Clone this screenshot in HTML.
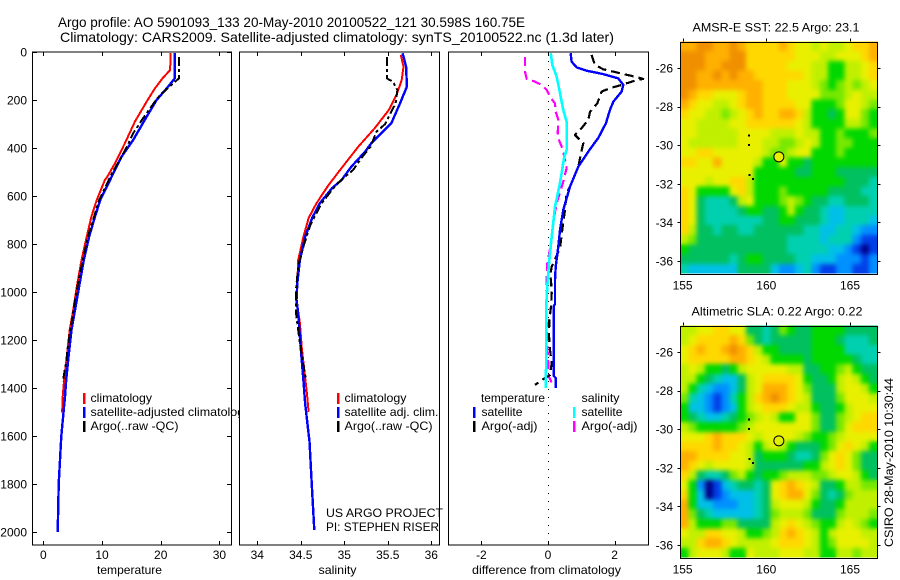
<!DOCTYPE html>
<html>
<head>
<meta charset="utf-8">
<title>Argo profile 5901093_133</title>
<style>
html,body{margin:0;padding:0;background:#fff;width:900px;height:580px;overflow:hidden}
svg{display:block}
text{font-family:"Liberation Sans",sans-serif;font-size:12px;fill:#000}
.title{font-size:14px}
</style>
</head>
<body>
<svg id="chart" xmlns="http://www.w3.org/2000/svg" width="900" height="580" viewBox="0 0 900 580">
<defs>
<clipPath id="p1clip"><rect x="32" y="50" width="208" height="500"/></clipPath>
<filter id="soften" x="0" y="0" width="100%" height="100%" color-interpolation-filters="sRGB">
<feGaussianBlur in="SourceGraphic" stdDeviation="2.4" result="b"/>
<feMerge><feMergeNode in="SourceGraphic"/><feMergeNode in="b"/></feMerge>
</filter>
</defs>
<rect x="0" y="0" width="900" height="580" fill="#fff"/>
<text class="title" x="58" y="27" textLength="467" lengthAdjust="spacingAndGlyphs">Argo profile: AO 5901093_133 20-May-2010 20100522_121 30.598S 160.75E</text>
<text class="title" x="60" y="42" textLength="554" lengthAdjust="spacingAndGlyphs">Climatology: CARS2009. Satellite-adjusted climatology: synTS_20100522.nc (1.3d later)</text>

<g id="panel1"></g>
<g id="panel2"></g>
<g id="panel3"></g>
<g id="map1"></g>
<g id="map2"></g>

<rect x="32.5" y="52" width="199" height="493" fill="none" stroke="#000" stroke-width="1" shape-rendering="crispEdges"/>
<rect x="239.5" y="52" width="200" height="493" fill="none" stroke="#000" stroke-width="1" shape-rendering="crispEdges"/>
<rect x="448.5" y="52" width="200" height="493" fill="none" stroke="#000" stroke-width="1" shape-rendering="crispEdges"/>

<text x="97" y="574" textLength="65" lengthAdjust="spacingAndGlyphs">temperature</text>
<text x="318.5" y="574" textLength="38" lengthAdjust="spacingAndGlyphs">salinity</text>
<text x="472" y="574" textLength="149" lengthAdjust="spacingAndGlyphs">difference from climatology</text>

<g>
<rect x="83" y="393" width="2.5" height="11" fill="#f00"/>
<rect x="83" y="407" width="2.5" height="11" fill="#00f"/>
<rect x="83" y="421" width="2.5" height="11" fill="#000"/>
<text x="90.5" y="402" textLength="61.5" lengthAdjust="spacingAndGlyphs">climatology</text>
<g clip-path="url(#p1clip)"><text x="90.5" y="416" textLength="160" lengthAdjust="spacingAndGlyphs">satellite-adjusted climatology</text></g>
<text x="90.5" y="430" textLength="88" lengthAdjust="spacingAndGlyphs">Argo(..raw -QC)</text>
</g>
<g>
<rect x="337" y="393" width="2.5" height="11" fill="#f00"/>
<rect x="337" y="407" width="2.5" height="11" fill="#00f"/>
<rect x="337" y="421" width="2.5" height="11" fill="#000"/>
<text x="344.5" y="402" textLength="62" lengthAdjust="spacingAndGlyphs">climatology</text>
<text x="344.5" y="416" textLength="94" lengthAdjust="spacingAndGlyphs">satellite adj. clim.</text>
<text x="344.5" y="430" textLength="88" lengthAdjust="spacingAndGlyphs">Argo(..raw -QC)</text>
</g>
<text x="326" y="517" textLength="117" lengthAdjust="spacingAndGlyphs">US ARGO PROJECT</text>
<text x="326" y="531" textLength="113" lengthAdjust="spacingAndGlyphs">PI: STEPHEN RISER</text>

<g>
<text x="481" y="402" textLength="64" lengthAdjust="spacingAndGlyphs">temperature</text>
<text x="581.5" y="402" textLength="38" lengthAdjust="spacingAndGlyphs">salinity</text>
<rect x="473" y="407" width="2.5" height="11" fill="#00f"/>
<rect x="473" y="421" width="2.5" height="11" fill="#000"/>
<rect x="573" y="407" width="2.5" height="11" fill="#0ff"/>
<rect x="573" y="421" width="2.5" height="11" fill="#f0f"/>
<text x="481.5" y="416" textLength="41" lengthAdjust="spacingAndGlyphs">satellite</text>
<text x="481.5" y="430" textLength="56" lengthAdjust="spacingAndGlyphs">Argo(-adj)</text>
<text x="581.5" y="416" textLength="41" lengthAdjust="spacingAndGlyphs">satellite</text>
<text x="581.5" y="430" textLength="56" lengthAdjust="spacingAndGlyphs">Argo(-adj)</text>
</g>

<text x="692.5" y="31.5" textLength="167" lengthAdjust="spacingAndGlyphs">AMSR-E SST: 22.5 Argo: 23.1</text>
<text x="691.5" y="315.5" textLength="171" lengthAdjust="spacingAndGlyphs">Altimetric SLA: 0.22 Argo: 0.22</text>
<text transform="translate(893,547) rotate(-90)" x="0" y="0" textLength="169" lengthAdjust="spacingAndGlyphs">CSIRO 28-May-2010 10:30:44</text>
</svg>

<script>
// ---------- Profile data ----------
const yTicks = [0,200,400,600,800,1000,1200,1400,1600,1800,2000];
const tempTicks = [0,10,20,30];
const salTicks = [34,34.5,35,35.5,36];
const salTickLabels = ['34','34.5','35','35.5','36'];
const diffTicks = [-2,0,2];

const tempClimDepth = [5,75,110,152,207,290,380,464,520,533,617,686,770,867,978,1075,1158,1270,1353,1436,1503];
const tempClimValue = [21.7,21.6,20.3,19.0,17.6,15.6,13.9,12.2,10.9,10.5,9.1,8.2,7.4,6.5,5.7,5.1,4.5,4.0,3.6,3.3,3.2];
const tempSatDepth = [5,110,152,200,270,367,437,505,533,617,686,770,867,978,1075,1158,1270,1367,1436,1600,1800,2000];
const tempSatValue = [22.4,22.4,21.0,19.3,17.6,15.3,13.3,11.9,11.4,9.7,8.8,7.8,6.9,6.1,5.4,4.8,4.3,3.9,3.7,3.07,2.62,2.45];
const tempArgoDepth = [20,110,179,207,235,276,339,388,437,505,617,770,922,1033,1130,1214,1297,1374];
const tempArgoValue = [23.1,23.1,19.9,19.0,18.2,17.0,15.3,14.4,13.3,11.7,9.5,7.6,6.25,5.4,4.8,4.25,3.87,3.3];

const salClimDepth = [12,61,117,179,242,317,395,483,554,630,692,770,867,964,1033,1130,1230,1325,1422,1499];
const salClimValue = [35.65,35.68,35.66,35.60,35.51,35.35,35.16,34.97,34.82,34.68,34.59,34.53,34.47,34.46,34.45,34.49,34.51,34.54,34.57,34.59];
const salSatDepth = [5,61,144,214,297,380,415,478,533,567,630,692,770,867,964,1033,1088,1187,1283,1367,1463,1562,1623,1797,1992];
const salSatValue = [35.67,35.71,35.72,35.64,35.54,35.31,35.24,35.08,34.97,34.86,34.72,34.63,34.55,34.49,34.46,34.45,34.47,34.49,34.51,34.53,34.55,34.58,34.6,34.625,34.655];
const salArgoDepth = [20,110,124,158,214,270,300,332,395,440,492,525,561,630,720,811,890,992,1088,1213,1367];
const salArgoValue = [35.49,35.49,35.56,35.61,35.59,35.51,35.47,35.37,35.30,35.20,35.10,34.99,34.89,34.74,34.61,34.53,34.47,34.445,34.445,34.49,34.56];

const diffTempSatDepth = [5,40,64,78,92,110,137,165,207,242,297,358,405,478,561,658,742,811,895,950,1050,1060,1350,1358,1400];
const diffTempSatValue = [0.68,0.71,0.86,1.16,1.66,2.11,2.26,2.21,1.96,1.86,1.74,1.51,1.26,0.91,0.66,0.46,0.36,0.31,0.23,0.21,0.21,0.17,0.17,0.23,0.23];
const diffSalSatDepth = [5,54,103,172,242,290,408,436,546,645,770,880,950,1050,1300,1350,1400];
const diffSalSatValue = [0.08,0.13,0.26,0.36,0.46,0.56,0.56,0.49,0.36,0.21,0.11,0.03,-0.01,-0.05,-0.05,-0.07,-0.07];
const diffTempArgoDepth = [12,54,72,85,103,112,117,137,151,165,214,249,283,317,346,380,422,478,546,589,658,707,817,895,936,950,1005,1061,1117,1179,1242,1296,1346,1358,1387];
const diffTempArgoValue = [1.31,1.41,1.66,2.06,2.61,2.86,2.66,2.21,1.86,1.61,1.48,1.26,1.21,1.01,0.81,1.06,0.99,0.91,0.71,0.56,0.51,0.46,0.36,0.11,0.06,0.09,0.11,0.09,0.04,0.03,0.06,0.11,0.06,-0.09,-0.39];
const diffSalArgoDepth = [20,54,82,112,121,137,158,192,214,249,283,339,367,395,436,483,540,630,714,797,880,942,1046,1200,1354,1383];
const diffSalArgoValue = [-0.69,-0.69,-0.69,-0.64,-0.44,-0.19,-0.04,0.09,0.21,0.23,0.31,0.29,0.33,0.41,0.49,0.56,0.46,0.26,0.15,0.09,-0.02,-0.04,-0.05,-0.03,0.03,0.13];

// ---------- Map data (colour-level grid, north to south, west to east) ----------
const sstGrid = [
[11,11,12,12,11,11,12,11,10,10,10,10,11,10,9,9,8,9,8,8,9,10,10,11],
[12,12,12,11,11,11,12,12,10,10,10,10,10,10,9,9,9,8,8,9,9,9,10,11],
[12,12,12,11,11,12,12,12,10,10,10,10,10,9,9,9,8,8,6,6,8,8,9,10],
[12,12,11,11,12,11,12,11,11,10,10,10,10,10,10,9,8,8,6,6,8,8,9,10],
[12,12,11,11,11,11,11,11,11,11,10,10,10,9,9,9,8,7,6,7,8,7,8,9],
[12,11,10,10,9,9,9,10,11,11,10,10,10,9,9,9,9,7,7,7,8,9,8,8],
[11,10,9,9,8,8,9,10,11,11,10,10,10,10,9,9,6,6,6,7,9,9,8,7],
[10,9,9,8,8,7,8,9,10,11,10,10,11,11,10,8,6,6,5,6,9,9,7,6],
[9,9,8,8,8,8,9,9,10,10,10,10,10,10,9,8,6,6,6,6,8,8,7,6],
[9,9,8,8,8,8,8,9,9,9,9,8,8,8,9,8,8,6,6,7,6,6,6,7],
[9,8,8,8,8,8,8,9,9,9,8,8,7,7,8,9,8,6,6,7,7,6,6,6],
[9,9,10,10,9,9,9,9,9,9,8,7,7,8,9,9,6,6,6,7,6,6,6,6],
[10,10,9,9,11,9,9,9,9,8,6,6,9,6,6,5,6,6,6,6,6,6,6,6],
[9,9,9,9,9,9,9,9,9,6,6,6,6,6,5,5,6,6,6,5,5,5,5,5],
[9,9,9,8,9,9,10,10,8,6,6,6,6,6,6,6,6,6,6,6,5,5,5,4],
[10,9,6,6,6,6,9,10,8,6,6,6,7,6,6,6,6,6,5,5,5,5,4,4],
[10,9,5,4,4,4,5,8,9,6,6,6,7,8,7,6,5,5,4,4,5,5,5,4],
[10,9,5,4,4,4,4,5,6,6,5,5,6,8,6,5,5,4,3,3,4,4,4,4],
[10,9,5,4,4,4,4,4,4,4,5,5,6,6,5,5,5,4,3,3,4,4,4,3],
[10,8,5,5,4,5,5,4,4,5,5,5,5,5,5,4,4,3,3,4,4,3,2,2],
[8,7,5,5,5,5,5,5,5,5,5,5,5,4,4,4,4,3,4,4,4,2,1,1],
[6,5,5,5,5,5,5,5,5,5,5,5,5,4,4,4,4,4,3,3,2,1,0,1],
[5,5,5,5,5,5,4,5,6,6,5,5,5,5,4,4,3,3,3,2,2,2,1,2],
[4,3,3,3,3,3,3,5,5,5,5,3,2,2,3,4,2,1,1,2,2,1,1,2]
];
const slaGrid = [
[8,8,9,9,10,10,9,9,5,5,4,5,7,6,5,5,6,6,6,6,5,5,5,5],
[8,9,10,10,10,10,11,10,7,5,4,5,5,5,5,5,6,6,6,5,4,4,4,5],
[9,10,11,10,10,11,12,11,10,8,6,6,5,5,5,5,6,6,6,6,4,4,4,4],
[9,10,10,10,10,10,11,11,10,9,8,6,6,6,6,5,6,6,6,6,6,5,4,4],
[8,9,8,6,6,5,6,8,9,9,9,9,9,8,8,5,5,6,6,7,8,6,5,5],
[8,8,6,5,4,3,3,5,8,9,10,10,10,10,9,6,5,5,6,8,9,8,6,5],
[8,6,4,3,2,2,3,5,8,9,11,11,11,10,9,7,5,5,5,8,9,9,8,6],
[7,4,3,2,1,2,4,6,8,10,11,12,11,10,9,8,5,5,5,7,9,9,9,8],
[6,3,3,2,1,2,3,6,8,9,10,10,10,9,8,8,6,5,5,6,8,9,9,9],
[6,5,4,3,3,4,5,6,7,8,9,8,6,6,9,9,7,5,5,7,8,9,10,10],
[8,7,6,6,6,6,6,7,8,9,9,9,9,9,9,9,7,5,5,7,9,10,10,10],
[9,9,9,10,11,10,10,10,9,8,9,9,9,9,8,7,6,6,7,8,9,9,9,9],
[10,10,10,10,11,10,10,9,8,6,8,9,8,6,5,5,5,6,7,9,10,9,8,6],
[11,11,10,10,10,10,9,9,8,5,6,6,6,5,4,4,5,7,9,10,9,7,5,5],
[11,10,9,8,9,9,9,9,8,5,5,5,5,5,5,6,6,8,9,10,9,7,5,5],
[10,8,5,4,4,5,7,8,6,5,6,6,7,8,8,8,7,7,8,9,9,8,6,5],
[9,6,2,0,1,3,4,5,5,4,5,9,10,11,10,9,8,5,5,6,8,8,7,7],
[10,6,3,0,1,2,3,3,3,4,5,9,10,11,11,9,7,5,4,5,7,8,8,8],
[11,6,3,3,2,2,2,3,3,4,5,8,9,9,9,8,6,5,5,6,8,8,8,8],
[11,7,5,4,3,3,3,3,3,4,5,7,8,8,8,7,5,5,5,7,8,8,8,7],
[11,8,6,6,6,7,7,5,5,5,5,8,9,10,9,8,7,6,6,8,9,8,7,6],
[9,8,8,10,10,9,9,8,6,6,7,8,10,11,10,9,8,6,8,9,9,9,8,8],
[8,8,10,11,11,10,9,8,8,8,8,9,10,10,10,9,8,6,7,9,9,9,9,8],
[6,8,9,9,9,8,6,6,9,8,8,8,9,9,9,8,8,6,6,8,8,7,8,8]
];
const lonTicks = [155,160,165];
const latTicks = [-26,-28,-30,-32,-34,-36];
const floatLon = [160.75];
const floatLat = [-30.6];
const floatLevel = [9];
const otherLon = [158.98,158.98,159.0,159.2];
const otherLat = [-29.5,-30.0,-31.53,-31.75];

const palette = ['#000088','#0040e8','#0090ff','#00c0e8','#00d0b0','#00c060','#00d800','#78e800','#c0f000','#e8f000','#ffd800','#ffb000','#f09000'];

// ---------- Helpers ----------
const NS = 'http://www.w3.org/2000/svg';
function mk(parent, tag, attrs, name) {
  const el = document.createElementNS(NS, tag);
  for (const k in attrs) el.setAttribute(k, attrs[k]);
  
  
  parent.appendChild(el);
  return el;
}
function label(parent, str, x, y, anchor, name) {
  const el = mk(parent, 'text', {x: x, y: y, 'text-anchor': anchor}, name);
  el.textContent = str;
  return el;
}
const depthToY = d => 52 + 0.24 * d;
const tempX = v => 43.3 + 5.87 * v;
const salX = v => 257.3 + 87 * (v - 34);
const diffX = v => 548 + 33.3 * v;

function drawSeries(parent, depths, values, xFn, color, width, dash, name) {
  const pts = depths.map((d, i) => xFn(values[i]).toFixed(1) + ',' + depthToY(d).toFixed(1)).join(' ');
  const attrs = {points: pts, fill: 'none', stroke: color, 'stroke-width': width, 'stroke-linejoin': 'round', 'shape-rendering': 'crispEdges'};
  if (dash) attrs['stroke-dasharray'] = dash;
  return mk(parent, 'polyline', attrs, name);
}
function hTick(parent, x, y1, y2, name) {
  return mk(parent, 'line', {x1: x, x2: x, y1: y1, y2: y2, stroke: '#000', 'stroke-width': 1, 'shape-rendering': 'crispEdges'}, name);
}
function vTick(parent, y, x1, x2, name) {
  return mk(parent, 'line', {x1: x1, x2: x2, y1: y, y2: y, stroke: '#000', 'stroke-width': 1, 'shape-rendering': 'crispEdges'}, name);
}
function xAxis(parent, ticks, labels, xFn) {
  ticks.forEach((t, i) => {
    const x = Math.round(xFn(t)) + 0.5;
    hTick(parent, x, 52, 56, 'x-tick-top');
    hTick(parent, x, 541, 545, 'x-tick-bottom');
    label(parent, labels[i], xFn(t), 559, 'middle', 'x-tick-label');
  });
}

// ---------- Panels ----------
const p1 = document.getElementById('panel1');
const p2 = document.getElementById('panel2');
const p3 = document.getElementById('panel3');

xAxis(p1, tempTicks, tempTicks.map(String), tempX);
yTicks.forEach(t => {
  const y = Math.round(depthToY(t)) + 0.5;
  vTick(p1, y, 32, 37, 'y-tick-left');
  vTick(p1, y, 227, 231, 'y-tick-right');
  label(p1, String(t), 27, depthToY(t) + 4.5, 'end', 'y-tick-label');
});
drawSeries(p1, tempClimDepth, tempClimValue, tempX, '#f00', 2, null, 'temperature-climatology-line');
drawSeries(p1, tempSatDepth, tempSatValue, tempX, '#00f', 2.4, null, 'temperature-satellite-line');
drawSeries(p1, tempArgoDepth, tempArgoValue, tempX, '#000', 2, '9 3 3 3', 'temperature-argo-line');

xAxis(p2, salTicks, salTickLabels, salX);
drawSeries(p2, salClimDepth, salClimValue, salX, '#f00', 2, null, 'salinity-climatology-line');
drawSeries(p2, salSatDepth, salSatValue, salX, '#00f', 2.4, null, 'salinity-satellite-line');
drawSeries(p2, salArgoDepth, salArgoValue, salX, '#000', 2, '9 3 3 3', 'salinity-argo-line');

xAxis(p3, diffTicks, diffTicks.map(String), diffX);
mk(p3, 'line', {x1: 548.5, x2: 548.5, y1: 53, y2: 545, stroke: '#000', 'stroke-width': 1, 'stroke-dasharray': '1 7', 'shape-rendering': 'crispEdges'}, 'zero-reference-line');
drawSeries(p3, diffSalArgoDepth, diffSalArgoValue, diffX, '#f0f', 2.2, '9 5', 'salinity-argo-difference-line');
drawSeries(p3, diffTempArgoDepth, diffTempArgoValue, diffX, '#000', 2.2, '9 5', 'temperature-argo-difference-line');
drawSeries(p3, diffSalSatDepth, diffSalSatValue, diffX, '#0ff', 2.6, null, 'salinity-satellite-difference-line');
drawSeries(p3, diffTempSatDepth, diffTempSatValue, diffX, '#00f', 2.4, null, 'temperature-satellite-difference-line');

// ---------- Maps ----------
const lonToX = lon => 766.3 + 16.74 * (lon - 160);
const lonMin = 154.86, lonMax = 166.63, latMax = -24.63, latMin = -36.64;

function drawMap(group, grid, lat26Y, labelY, cellName) {
  const latToY = lat => lat26Y + 19.31 * (-26 - lat);
  const rows = grid.length;
  const cols = grid[0].length;
  const dLon = (lonMax - lonMin) / cols;
  const dLat = (latMax - latMin) / rows;
  const cells = mk(group, 'g', {filter: 'url(#soften)'}, 'map-cells');
  grid.forEach((row, r) => {
    row.forEach((v, c) => {
      const x0 = lonToX(lonMin + c * dLon), x1 = lonToX(lonMin + (c + 1) * dLon);
      const y0 = latToY(latMax - r * dLat), y1 = latToY(latMax - (r + 1) * dLat);
      mk(cells, 'rect', {x: x0.toFixed(2), y: y0.toFixed(2), width: (x1 - x0 + (c < cols - 1 ? 0.5 : 0)).toFixed(2), height: (y1 - y0 + (r < rows - 1 ? 0.5 : 0)).toFixed(2), fill: palette[Math.max(0, Math.min(12, Math.round(v)))], 'shape-rendering': 'crispEdges'}, cellName);
    });
  });
  const top = latToY(latMax), bottom = latToY(latMin);
  const left = lonToX(lonMin), right = lonToX(lonMax);
  mk(group, 'rect', {x: Math.round(left) + 0.5, y: Math.round(top) + 0.5, width: Math.round(right - left), height: Math.round(bottom - top), fill: 'none', stroke: '#000', 'stroke-width': 1, 'shape-rendering': 'crispEdges'}, 'map-frame');
  lonTicks.forEach(t => {
    const x = Math.round(lonToX(t)) + 0.5;
    hTick(group, x, top - 3, top, 'lon-tick');
    label(group, String(t), lonToX(t), labelY, 'middle', 'lon-tick-label');
  });
  latTicks.forEach(t => {
    const y = Math.round(latToY(t)) + 0.5;
    vTick(group, y, left - 3, left, 'lat-tick-left');
    vTick(group, y, right, right + 3, 'lat-tick-right');
    label(group, String(t), 673, latToY(t) + 4.5, 'end', 'lat-tick-label');
  });
  otherLon.forEach((lon, i) => {
    mk(group, 'rect', {x: lonToX(lon) - 1, y: latToY(otherLat[i]) - 1, width: 2, height: 2, fill: '#000', 'shape-rendering': 'crispEdges'}, 'nearby-float-marker');
  });
  floatLon.forEach((lon, i) => {
    mk(group, 'circle', {cx: lonToX(lon), cy: latToY(floatLat[i]), r: 5, fill: group.id === 'map1' ? palette[floatLevel[i]] : 'none', stroke: '#000', 'stroke-width': 1}, 'argo-float-location');
  });
}
drawMap(document.getElementById('map1'), sstGrid, 68, 289.5, 'sst-cell');
drawMap(document.getElementById('map2'), slaGrid, 352, 573.5, 'sla-cell');
</script>
</body>
</html>
